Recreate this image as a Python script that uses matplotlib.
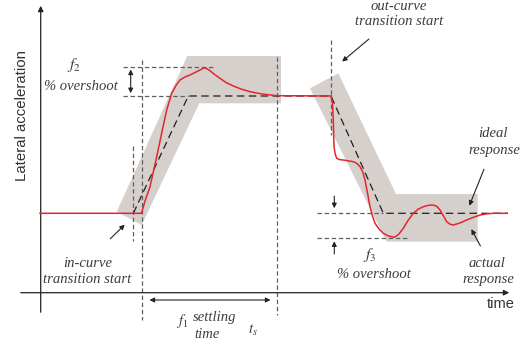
import matplotlib.pyplot as plt
from matplotlib.patches import Polygon

plt.rcParams['mathtext.fontset'] = 'stix'

# Everything below is laid out in a 526 x 347 drawing space (y grows downward)
W, H = 526, 347

# Levels of the lateral acceleration
base_level = 213.3
curve_level = 96.0

# Ideal response (piecewise linear)
ideal_x = [133.3, 188.3, 331.0, 383.3, 508.0]
ideal_y = [base_level, curve_level, curve_level, base_level, base_level]

# Actual response, in-curve part
actual_in_x = [40.0, 141.5, 145.0, 150.0, 156.7, 161.7, 166.7, 171.7, 176.0, 180.0, 185.0,
               190.0, 196.7, 201.0, 204.3, 207.0, 210.0, 215.0, 220.0, 226.0, 233.3,
               241.0, 250.0, 262.0, 276.7, 331.0]
actual_in_y = [213.3, 213.3, 201.0, 186.7, 156.7, 133.0, 110.0, 93.3, 85.5, 80.0, 77.0,
               75.0, 71.7, 69.5, 67.7, 68.8, 70.7, 74.8, 78.3, 82.5, 86.0,
               89.0, 91.7, 94.0, 95.7, 96.0]

# Actual response, out-curve part
actual_out_x = [331.0, 332.5, 333.3, 334.0, 335.2, 336.7, 339.5, 343.3, 348.0, 353.3, 357.0,
                360.0, 362.8, 365.0, 367.5, 370.0, 372.5, 375.0, 379.0, 383.3, 388.5,
                394.3, 398.5, 403.3, 408.0, 413.3, 418.0, 423.3, 428.5, 433.3, 437.0,
                440.0, 443.5, 446.7, 450.0, 453.3, 460.0, 466.7, 473.5, 480.0, 486.5,
                493.3, 506.7]
actual_out_y = [96.0, 103.0, 120.0, 146.7, 154.0, 158.3, 159.6, 160.0, 160.8, 161.7, 163.5,
                166.7, 172.0, 180.0, 193.0, 206.7, 216.0, 223.3, 229.0, 233.3, 236.0,
                237.3, 234.5, 228.3, 220.5, 213.3, 209.3, 206.7, 205.3, 205.0, 206.5,
                210.0, 216.0, 221.7, 224.2, 225.0, 223.0, 220.0, 217.3, 215.0, 213.9,
                213.3, 213.3]

# Tolerance bands around the ideal response
band_in = [(116.7, 211.7), (141.7, 225.0), (199.3, 103.3), (281.0, 103.3),
           (281.0, 56.0), (187.3, 56.0)]
band_out = [(310.0, 88.3), (338.3, 73.3), (396.0, 194.0), (477.7, 194.0),
            (477.7, 241.7), (386.7, 241.7)]

red = '#e3262d'
band_color = '#d6d0cd'
guide = '#5f5f5f'
text_color = '#3c3c3c'
serif = dict(family='Liberation Serif', style='italic', color=text_color, fontsize=10.5)

fig = plt.figure(figsize=(W / 100, H / 100), dpi=100)
ax = fig.add_axes([0, 0, 1, 1])
ax.set_xlim(0, W)
ax.set_ylim(H, 0)
ax.axis('off')

# bands
ax.add_patch(Polygon(band_in, closed=True, facecolor=band_color, edgecolor='none', zorder=1))
ax.add_patch(Polygon(band_out, closed=True, facecolor=band_color, edgecolor='none', zorder=1))

# axes arrows
ax.annotate('', xy=(40.7, 3), xytext=(40.7, 315),
            arrowprops=dict(arrowstyle='-|>', color='#222222', lw=0.9, mutation_scale=8))
ax.annotate('', xy=(512, 292.7), xytext=(18, 292.7),
            arrowprops=dict(arrowstyle='-|>', color='#222222', lw=0.9, mutation_scale=8))
ax.text(22, 115.5, 'Lateral acceleration', rotation=90, ha='center', va='center',
        family='Liberation Sans', fontsize=10.8, color='#333333')
ax.text(501, 304, 'time', ha='center', va='center',
        family='Liberation Sans', fontsize=10.5, color='#333333')

# guide lines
dash = dict(color=guide, lw=0.9, linestyle=(0, (3.5, 2.2)), zorder=2)
ax.plot([133.3, 133.3], [146, 241], **dash)
ax.plot([141.7, 141.7], [60, 320], **dash)
ax.plot([276.7, 276.7], [57, 315], **dash)
ax.plot([331.0, 331.0], [40, 135], **dash)
ax.plot([123.3, 213.3], [66.7, 66.7], **dash)
ax.plot([123.3, 188.3], [curve_level, curve_level], **dash)
ax.plot([316.7, 383.3], [base_level, base_level], **dash)
ax.plot([316.7, 408.0], [237.7, 237.7], **dash)

# ideal and actual responses
ax.plot(ideal_x, ideal_y, color='#1e1e1e', lw=0.9, linestyle=(0, (6, 3.5)), zorder=3)
ax.plot(actual_in_x, actual_in_y, color=red, lw=1.1, zorder=4)
ax.plot(actual_out_x, actual_out_y, color=red, lw=1.1, zorder=4)

# annotation arrows
arr = dict(arrowstyle='-|>', color='#222222', lw=0.8, mutation_scale=7)
arr2 = dict(arrowstyle='<|-|>', color='#222222', lw=0.8, mutation_scale=7)
ax.annotate('', xy=(126.7, 222.7), xytext=(108.3, 240.7), arrowprops=arr)
ax.annotate('', xy=(130.7, 66.7), xytext=(130.7, 96.0), arrowprops=arr2)
ax.annotate('', xy=(146.7, 300), xytext=(273.3, 300), arrowprops=arr2)
ax.annotate('', xy=(340, 63.3), xytext=(371, 37.3), arrowprops=arr)
ax.annotate('', xy=(468.3, 208.3), xytext=(485, 166.7), arrowprops=arr)
ax.annotate('', xy=(470, 226.7), xytext=(481.7, 248.3), arrowprops=arr)
ax.annotate('', xy=(334.3, 211), xytext=(334.3, 193.3), arrowprops=arr)
ax.annotate('', xy=(334.3, 238.5), xytext=(334.3, 256.7), arrowprops=arr)

# labels
ax.text(74, 65, '$f_2$', ha='center', va='center', fontsize=11.5,
        **{k: v for k, v in serif.items() if k != 'fontsize'})
ax.text(81, 86, '% overshoot', ha='center', va='center', **serif)
ax.text(87.3, 263.3, 'in-curve', ha='center', va='center', **serif)
ax.text(87.3, 279.3, 'transition start', ha='center', va='center', **serif)
ax.text(182, 321, '$f_1$', ha='center', va='center', **serif)
ax.text(215, 318, 'settling', ha='center', va='center', **serif)
ax.text(207, 334, 'time', ha='center', va='center', **serif)
ax.text(253, 330, '$t_s$', ha='center', va='center', **serif)
ax.text(399, 6.5, 'out-curve', ha='center', va='center', **serif)
ax.text(399, 21.5, 'transition start', ha='center', va='center', **serif)
ax.text(492.5, 133.3, 'ideal', ha='center', va='center', **serif)
ax.text(494, 150.7, 'response', ha='center', va='center', **serif)
ax.text(370, 255, '$f_3$', ha='center', va='center', fontsize=11.5,
        **{k: v for k, v in serif.items() if k != 'fontsize'})
ax.text(374, 275, '% overshoot', ha='center', va='center', **serif)
ax.text(486.7, 263.3, 'actual', ha='center', va='center', **serif)
ax.text(488.3, 280, 'response', ha='center', va='center', **serif)

fig.savefig('out.png', dpi=100)
